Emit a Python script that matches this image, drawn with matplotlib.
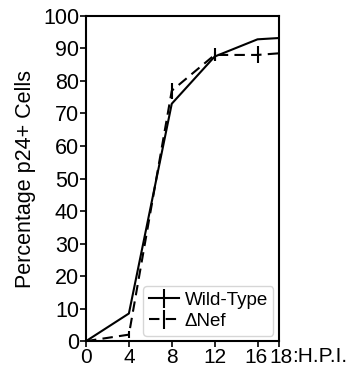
import matplotlib
matplotlib.use("Agg")
import matplotlib.pyplot as plt
from matplotlib.transforms import ScaledTranslation

plt.rcParams['font.family'] = ['Liberation Sans', 'DejaVu Sans']

hpi = [0, 4, 8, 12, 16, 18]
wild_type = [0, 8.5, 73, 87.5, 92.8, 93.2]
wild_type_err = [0, 0, 0, 1.5, 0, 0]
delta_nef = [0, 2, 77, 88, 88, 88.5]
delta_nef_err = [0, 1.0, 2.5, 2.0, 2.6, 0]
xticks = [0, 4, 8, 12, 16, 18]
yticks = [0, 10, 20, 30, 40, 50, 60, 70, 80, 90, 100]

fig = plt.figure(figsize=(3.54, 3.70), dpi=100)
ax = fig.add_axes([0.243, 0.078, 0.545, 0.879])

ax.errorbar(hpi, wild_type, yerr=wild_type_err, color='black', lw=1.5,
            elinewidth=1.5, capsize=0, label='Wild-Type')
ax.errorbar(hpi, delta_nef, yerr=delta_nef_err, color='black', lw=1.5,
            elinewidth=1.5, capsize=0, linestyle=(0, (5, 3)), label='\u0394Nef')

ax.set_xlim(0, 18)
ax.set_ylim(0, 100)
ax.set_xticks(xticks)
ax.set_xticklabels([str(t) for t in xticks])
ax.set_yticks(yticks)
ax.tick_params(labelsize=15.5, width=1.2, length=4, pad=1)
ax.tick_params(axis='x', labelsize=15)
for s in ax.spines.values():
    s.set_linewidth(1.5)

labels = ax.get_xticklabels()
labels[4].set_transform(labels[4].get_transform() + ScaledTranslation(-2/100, 0, fig.dpi_scale_trans))
labels[5].set_transform(labels[5].get_transform() + ScaledTranslation(2/100, 0, fig.dpi_scale_trans))

ax.set_ylabel('Percentage p24+ Cells', fontsize=15.5, labelpad=5)
ax.text(1.068, -0.017, ':H.P.I.', transform=ax.transAxes, fontsize=15,
        ha='left', va='top')

leg = ax.legend(loc='lower right', fontsize=13.5, handlelength=1.6,
                handletextpad=0.3, borderpad=0.3, labelspacing=0.2,
                borderaxespad=0.3, edgecolor='#cccccc')

fig.savefig('out.png', dpi=100)
